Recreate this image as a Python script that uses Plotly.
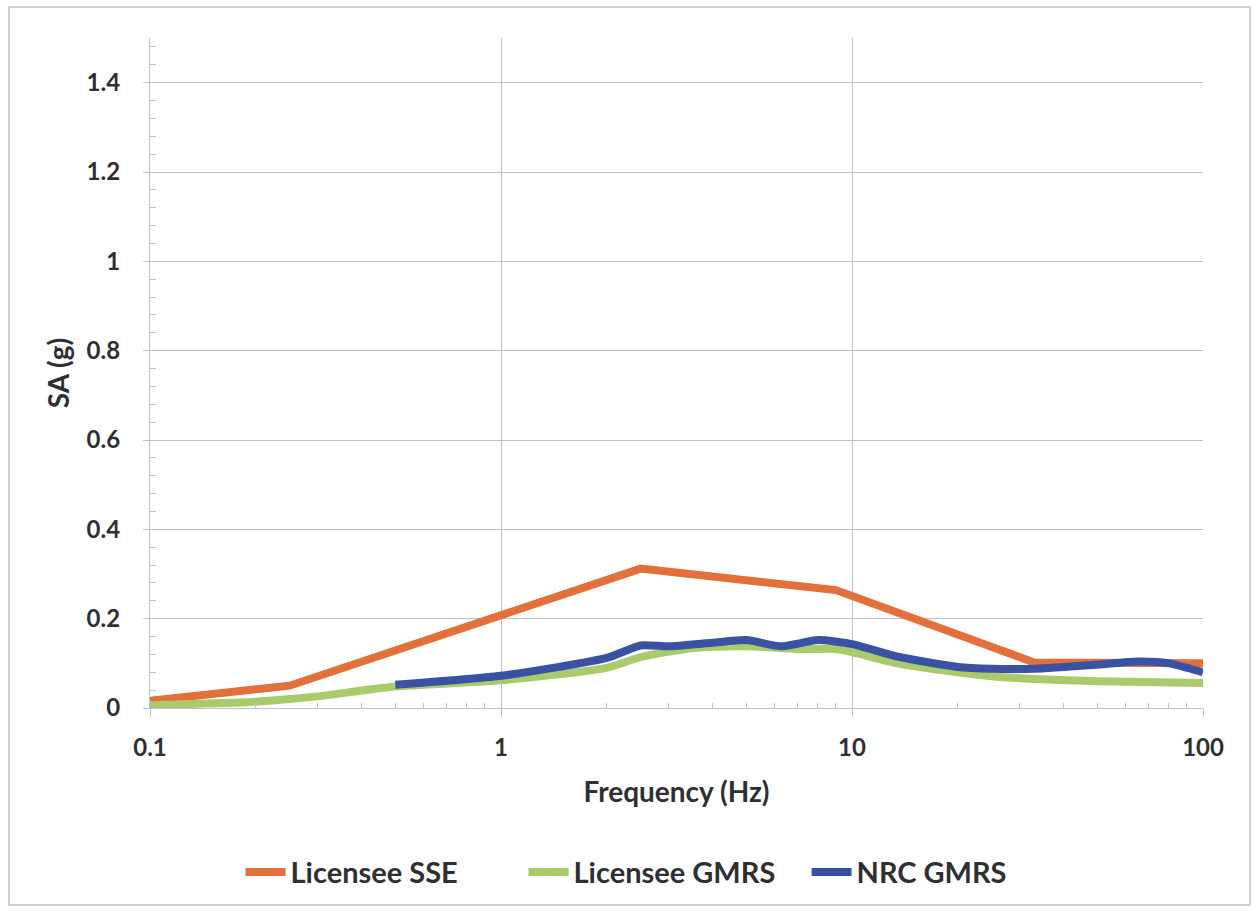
import plotly.graph_objects as go

# Licensee SSE design spectrum
sse_freq = [0.1, 0.25, 2.5, 9.0, 33.0, 100.0]
sse_sa = [0.016, 0.05, 0.312, 0.264, 0.102, 0.1]

# Licensee GMRS
lic_freq = [0.1, 0.2, 0.25, 0.3, 0.5, 1.0, 2.0, 2.5, 3.5, 5.0, 7.0, 9.0, 10.0, 13.5, 20.0, 25.0, 33.0, 50.0, 100.0]
lic_sa = [0.006, 0.014, 0.02, 0.026, 0.048, 0.062, 0.09, 0.114, 0.134, 0.138, 0.132, 0.132, 0.125, 0.1, 0.08, 0.071, 0.065, 0.06, 0.056]

# NRC GMRS
nrc_freq = [0.5, 1.0, 2.0, 2.5, 3.0, 4.0, 5.0, 6.3, 8.0, 10.0, 13.5, 20.0, 25.0, 33.0, 50.0, 65.0, 80.0, 100.0]
nrc_sa = [0.052, 0.072, 0.112, 0.14, 0.138, 0.146, 0.152, 0.138, 0.152, 0.143, 0.115, 0.092, 0.088, 0.088, 0.097, 0.104, 0.1, 0.08]

x_ticks = [0.1, 1, 10, 100]
x_ticktext = ["0.1", "1", "10", "100"]
y_ticks = [0, 0.2, 0.4, 0.6, 0.8, 1, 1.2, 1.4]
y_ticktext = ["0", "0.2", "0.4", "0.6", "0.8", "1", "1.2", "1.4"]
x_minor = [m * d for d in (0.1, 1, 10) for m in range(2, 10)]

ORANGE = "#E3703A"
GREEN = "#A9CB6B"
BLUE = "#3A52A4"
GRID = "#BDC0D9"
TEXT = "#2F2F33"
FONT = "Lato"

fig = go.Figure()
fig.add_trace(go.Scatter(x=sse_freq, y=sse_sa, mode="lines", name="Licensee SSE",
                         line=dict(color=ORANGE, width=8)))
fig.add_trace(go.Scatter(x=lic_freq, y=lic_sa, mode="lines", name="Licensee GMRS",
                         line=dict(color=GREEN, width=8, shape="spline", smoothing=0.6)))
fig.add_trace(go.Scatter(x=nrc_freq, y=nrc_sa, mode="lines", name="NRC GMRS",
                         line=dict(color=BLUE, width=8, shape="spline", smoothing=0.6)))

fig.update_layout(
    width=1257, height=911,
    margin=dict(l=150, r=54, t=38, b=203),
    paper_bgcolor="white", plot_bgcolor="white",
    font=dict(family=FONT, color=TEXT, size=24),
    showlegend=True,
    legend=dict(orientation="h", x=0.086, xanchor="left", y=-0.245, yanchor="middle",
                font=dict(family=FONT, size=29, color=TEXT, weight="bold"),
                entrywidth=228, entrywidthmode="pixels",
                itemwidth=40, tracegroupgap=0),
    shapes=[dict(type="rect", xref="paper", yref="paper",
                 x0=-0.1339, x1=1.0446, y0=-0.294, y1=1.0463,
                 line=dict(color="#C4C4C4", width=1.5), layer="below")],
)

fig.update_xaxes(
    type="log", range=[-1, 2],
    tickmode="array", tickvals=x_ticks, ticktext=x_ticktext,
    tickfont=dict(family=FONT, size=24, color=TEXT, weight="bold"),
    ticks="outside", ticklen=8, tickcolor=GRID, ticklabelstandoff=10,
    showgrid=True, gridcolor=GRID, gridwidth=1.2,
    showline=True, linecolor=GRID, linewidth=1.2,
    zeroline=False,
    minor=dict(tickmode="array", tickvals=x_minor, ticks="inside", ticklen=5,
               tickcolor=GRID, showgrid=False),
    title=dict(text="Frequency (Hz)", standoff=22,
               font=dict(family=FONT, size=28, color=TEXT, weight="bold")),
)

fig.update_yaxes(
    range=[0, 1.5],
    tickmode="array", tickvals=y_ticks, ticktext=y_ticktext,
    tickfont=dict(family=FONT, size=24, color=TEXT, weight="bold"),
    ticks="outside", ticklen=6, tickcolor=GRID, ticklabelstandoff=18,
    showgrid=True, gridcolor=GRID, gridwidth=1.2,
    showline=True, linecolor=GRID, linewidth=1.2,
    zeroline=False,
    minor=dict(dtick=0.04, ticks="inside", ticklen=6, tickcolor=GRID, showgrid=False),
    title=dict(text="SA (g)", standoff=8,
               font=dict(family=FONT, size=28, color=TEXT, weight="bold")),
)

fig.write_html("out.html")
